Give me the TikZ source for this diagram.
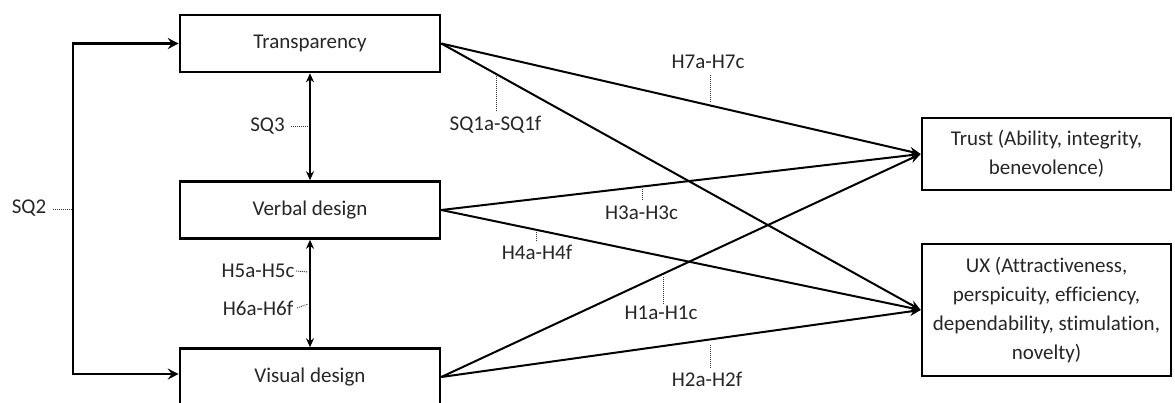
\documentclass[tikz,border=0pt]{standalone}
\usepackage{fontspec}
\setmainfont{Carlito}[Ligatures={NoCommon}]
\usetikzlibrary{arrows.meta}
\begin{document}
\begin{tikzpicture}[x=1pt,y=-1pt,
  font=\fontsize{21}{29}\selectfont,
  box/.style={draw,line width=2.6pt,inner sep=0pt,align=center,text=black!85},
  conn/.style={line width=2pt,-{Stealth[length=11pt,width=9pt]}},
  sqarr/.style={line width=2.8pt,-{Stealth[length=11pt,width=11pt,inset=4pt]},line join=miter},
  dbl/.style={line width=2pt,{Stealth[length=9pt,width=8pt]}-{Stealth[length=9pt,width=8pt]}},
  lbl/.style={inner sep=0pt,text=black!85},
  dotl/.style={line width=0.9pt,dash pattern=on 1pt off 1pt,black!80}]
\useasboundingbox (0,0) rectangle (1175,402);
% boxes
\node[box,minimum width=260,minimum height=57] (T) at (310,43.5) {Transparency};
\node[box,minimum width=260,minimum height=57] (V) at (310,210) {Verbal design};
\node[box,minimum width=260,minimum height=57] (Vis) at (310,377) {Visual design};
\node[box,minimum width=249,minimum height=72] (Tr) at (1046.5,154) {Trust (Ability, integrity,\\benevolence)};
\node[box,minimum width=249,minimum height=132] (UX) at (1046.5,310) {UX (Attractiveness,\\perspicuity, efficiency,\\dependability, stimulation,\\novelty)};
% main connectors
\draw[conn] (T.east) -- (Tr.west);
\draw[conn] (T.east) -- (UX.west);
\draw[conn] (V.east) -- (Tr.west);
\draw[conn] (V.east) -- (UX.west);
\draw[conn] (Vis.east) -- (Tr.west);
\draw[conn] (Vis.east) -- (UX.west);
% SQ2 bracket arrows
\coordinate (sq2c) at (73,209);
\draw[sqarr] (sq2c) |- (T.west);
\draw[sqarr] (sq2c) |- ([yshift=3pt]Vis.west);
% double arrows
\draw[dbl] (T.south) -- (V.north);
\draw[dbl] (V.south) -- (Vis.north);
% labels
\node[lbl] (sq2) at (29,208) {SQ2};
\draw[dotl] (53,209) -- (sq2c);
\node[lbl] (sq3) at (267.5,126) {SQ3};
\draw[dotl] (291,126) -- (309,126);
\node[lbl] (h5) at (258,271) {H5a-H5c};
\draw[dotl] (296,271) -- (308,272);
\node[lbl] (h6) at (258,308) {H6a-H6f};
\draw[dotl] (297,308) -- (308,304);
\node[lbl] (sq1) at (495.5,125) {SQ1a-SQ1f};
\draw[dotl] (496,111) -- (496,76);
\node[lbl] (h7) at (708,62) {H7a-H7c};
\draw[dotl] (710,75) -- (710,103);
\node[lbl] (h3) at (641.5,213) {H3a-H3c};
\draw[dotl] (642,200) -- (642,188);
\node[lbl] (h4) at (537,252) {H4a-H4f};
\draw[dotl] (536,241) -- (536,231);
\node[lbl] (h1) at (661,313) {H1a-H1c};
\draw[dotl] (663,304) -- (663,276);
\node[lbl] (h2) at (707,379) {H2a-H2f};
\draw[dotl] (710,368) -- (710,345);
\end{tikzpicture}
\end{document}
